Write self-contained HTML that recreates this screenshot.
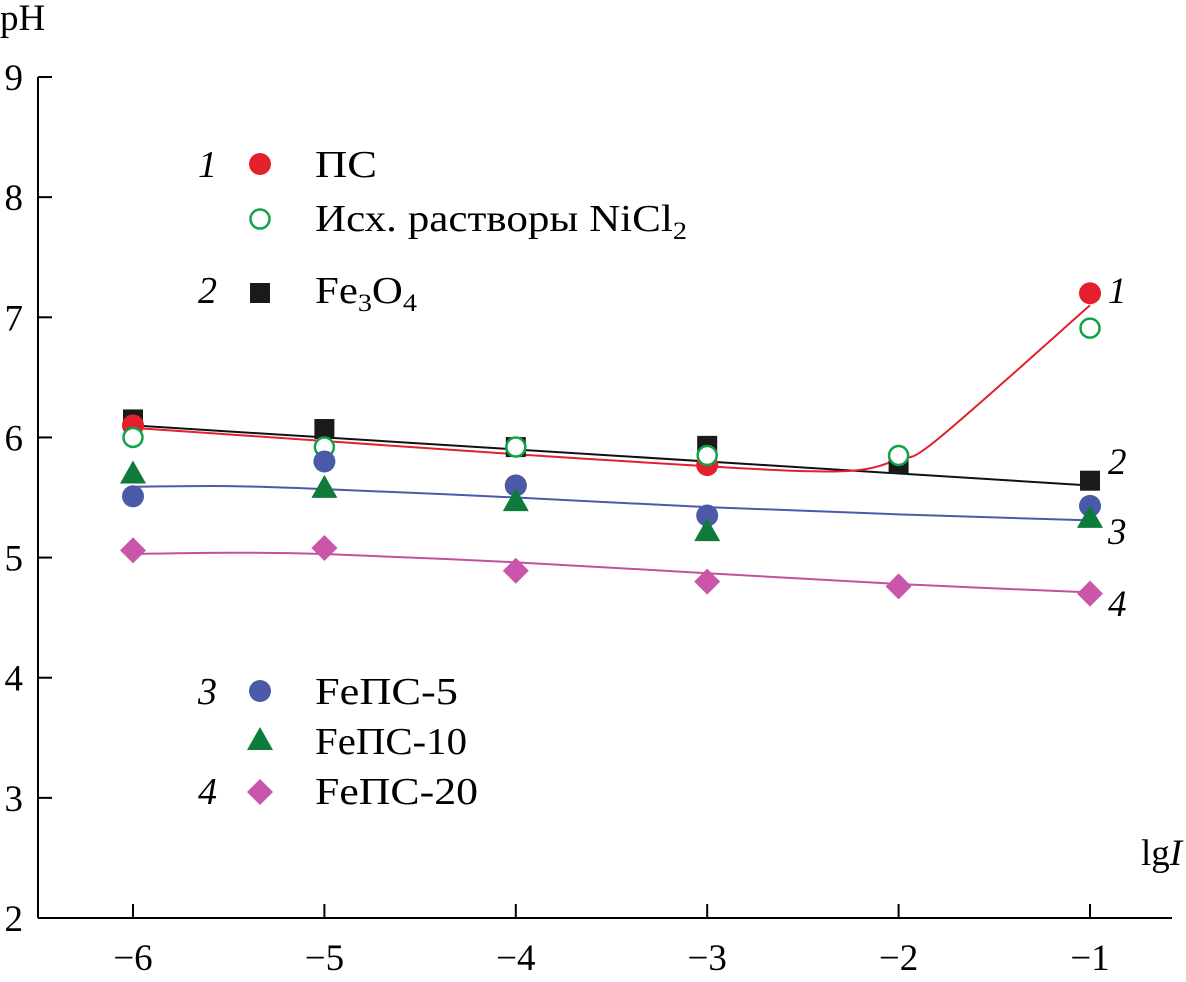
<!DOCTYPE html>
<html><head><meta charset="utf-8"><style>
html,body{margin:0;padding:0;background:#fff;}
svg{display:block;font-family:"Liberation Serif",serif;}
</style></head><body>
<svg id="chart" width="1186" height="982" viewBox="0 0 1186 982" xmlns="http://www.w3.org/2000/svg">
<g id="axes"></g>
<g id="curves"></g>
<g id="marks"></g>
<g id="legend" font-size="38"></g>
</svg>
<script>
const xCats=[-6,-5,-4,-3,-2,-1];
const yTicks=[2,3,4,5,6,7,8,9];
const xTickLabels=["\u22126","\u22125","\u22124","\u22123","\u22122","\u22121"];
const psX=[-6,-4,-3,-1];
const psY=[6.1,5.6,5.77,7.2];
const nicl2Y=[6.0,5.92,5.92,5.85,5.85,6.91];
const fe3o4Y=[6.15,6.07,5.92,5.93,5.78,5.64];
const feps5Y=[5.51,5.8,5.6,5.35,null,5.43];
const feps10Y=[5.7,5.58,5.47,5.22,null,5.33];
const feps20Y=[5.06,5.08,4.89,4.8,4.76,4.7];
const curve1X=[-6,-5,-4,-3,-2.5,-2.2,-2,-1.8,-1];
const curve1Y=[6.08,5.97,5.86,5.76,5.72,5.73,5.82,5.98,7.1];
const curve2X=[-6,-1];
const curve2Y=[6.1,5.6];
const curve3X=[-6,-5.5,-5,-4,-3,-2,-1];
const curve3Y=[5.59,5.595,5.57,5.5,5.42,5.36,5.31];
const curve4X=[-6,-5.5,-5,-4,-3,-2,-1];
const curve4Y=[5.03,5.04,5.03,4.96,4.87,4.78,4.71];

const NS="http://www.w3.org/2000/svg";
const X=v=>133+(v+6)*191.4;
const Y=v=>918-(v-2)*120.14;
function mk(tag,attrs,parent){const e=document.createElementNS(NS,tag);for(const k in attrs)e.setAttribute(k,attrs[k]);parent.appendChild(e);return e;}
const axes=document.getElementById('axes'),curves=document.getElementById('curves'),marks=document.getElementById('marks'),legend=document.getElementById('legend');

let a=mk('line',{x1:38,y1:77,x2:38,y2:918,stroke:'#000','stroke-width':2},axes);

a=mk('line',{x1:38,y1:918,x2:1172,y2:918,stroke:'#000','stroke-width':2},axes);

yTicks.forEach(t=>{
 const l=mk('line',{x1:38,y1:Y(t),x2:52,y2:Y(t),stroke:'#000','stroke-width':2},axes);
 
 const tx=mk('text',{x:23,y:Y(t)+13,'text-anchor':'end','font-size':37},axes);tx.textContent=t;
 
});
xCats.forEach((c,i)=>{
 const l=mk('line',{x1:X(c),y1:918,x2:X(c),y2:904,stroke:'#000','stroke-width':2},axes);
 
 const tx=mk('text',{x:X(c),y:970,'text-anchor':'middle','font-size':37},axes);tx.textContent=xTickLabels[i];
 
});
let t=mk('text',{x:0,y:30,'font-size':37},axes);t.textContent='pH';

t=mk('text',{x:1141,y:865,'font-size':37},axes);t.innerHTML='lg<tspan font-style="italic">I</tspan>';


function smooth(xs,ys){
 const p=xs.map((x,i)=>[X(x),Y(ys[i])]);
 let d='M'+p[0][0]+','+p[0][1];
 for(let i=0;i<p.length-1;i++){
  const p0=p[i-1]||p[i],p1=p[i],p2=p[i+1],p3=p[i+2]||p2;
  const c1=[p1[0]+(p2[0]-p0[0])/6,p1[1]+(p2[1]-p0[1])/6];
  const c2=[p2[0]-(p3[0]-p1[0])/6,p2[1]-(p3[1]-p1[1])/6];
  d+=' C'+c1+' '+c2+' '+p2;
 }
 return d;
}
[[curve2X,curve2Y,'#111','curve-2'],[curve1X,curve1Y,'#e3202b','curve-1'],[curve3X,curve3Y,'#4a5aa8','curve-3'],[curve4X,curve4Y,'#c2509f','curve-4']].forEach(([xs,ys,c,n])=>{
 const p=mk('path',{d:smooth(xs,ys),fill:'none',stroke:c,'stroke-width':2},curves);
 
});

function marker(type,cx,cy,parent){
 let e;
 if(type==='redc')e=mk('circle',{cx,cy,r:11,fill:'#e3202b'},parent);
 else if(type==='openc')e=mk('circle',{cx,cy,r:9.5,fill:'#fff',stroke:'#12a14a','stroke-width':2.5},parent);
 else if(type==='sq')e=mk('rect',{x:cx-10,y:cy-10,width:20,height:20,fill:'#1a1a1a'},parent);
 else if(type==='bluec')e=mk('circle',{cx,cy,r:11,fill:'#4a5aa8'},parent);
 else if(type==='tri')e=mk('polygon',{points:`${cx},${cy-13} ${cx+13},${cy+10} ${cx-13},${cy+10}`,fill:'#0e7a3c'},parent);
 else e=mk('polygon',{points:`${cx},${cy-13} ${cx+13},${cy} ${cx},${cy+13} ${cx-13},${cy}`,fill:'#c956a8'},parent);
 return e;
}
function series(xs,ys,type,name){
 xs.forEach((x,i)=>{if(ys[i]==null)return;const e=marker(type,X(x),Y(ys[i]),marks);
  });
}
series(xCats,fe3o4Y,'sq','fe3o4-point');
series(psX,psY,'redc','ps-point');
series(xCats,nicl2Y,'openc','nicl2-point');
series(xCats,feps5Y,'bluec','feps5-point');
series(xCats,feps10Y,'tri','feps10-point');
series(xCats,feps20Y,'dia','feps20-point');

function lab(x,y,s,n){const e=mk('text',{x,y,'font-size':37,'font-style':'italic'},axes);e.textContent=s;
 }
lab(1108,303,'1','curve-label-1');lab(1108,474,'2','curve-label-2');lab(1108,544,'3','curve-label-3');lab(1108,616,'4','curve-label-4');

const leg=[[164,177,'1','redc','ПС',62,'legend-ps'],[219,231,'','openc','Исх. растворы NiCl<tspan font-size="25" dy="8">2</tspan>',372,'legend-nicl2'],
[293,303,'2','sq','Fe<tspan font-size="25" dy="8">3</tspan><tspan dy="-8">O</tspan><tspan font-size="25" dy="8">4</tspan>',102,'legend-fe3o4'],
[691,704,'3','bluec','FeПС-5',143,'legend-feps5'],[740,754,'','tri','FeПС-10',152,'legend-feps10'],[792,804,'4','dia','FeПС-20',163,'legend-feps20']];
leg.forEach(([my,by,num,type,txt,w,n])=>{
 const g=mk('g',{},legend);
 if(num){const e=mk('text',{x:198,y:by,'font-style':'italic','font-size':38},g);e.textContent=num;}
 marker(type,260,my,g);
 const e=mk('text',{x:315,y:by,textLength:w,lengthAdjust:'spacingAndGlyphs'},g);e.innerHTML=txt;
});
</script>
</body></html>
